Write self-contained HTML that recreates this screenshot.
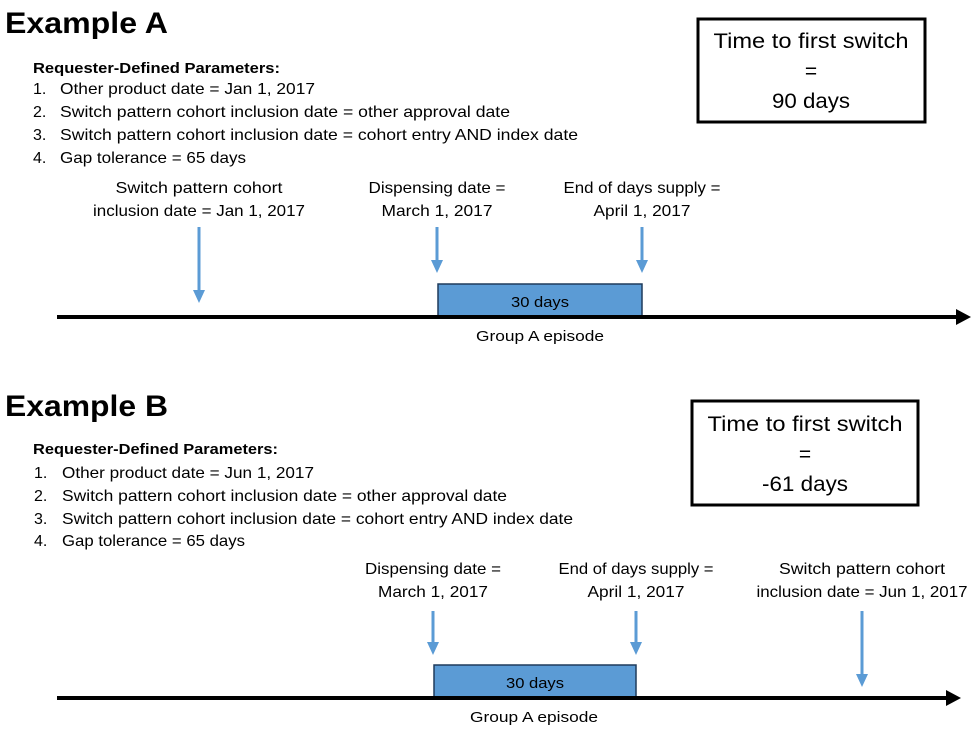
<!DOCTYPE html>
<html><head><meta charset="utf-8"><style>
html,body{margin:0;padding:0;background:#fff;}
svg{display:block;font-family:"Liberation Sans",sans-serif;}
</style></head><body>
<svg width="975" height="729" viewBox="0 0 975 729">
<g>
<text x="5" y="33" font-size="30" font-weight="bold" textLength="163" lengthAdjust="spacingAndGlyphs">Example A</text>
<text x="33" y="73" font-size="15" font-weight="bold" textLength="247" lengthAdjust="spacingAndGlyphs">Requester-Defined Parameters:</text>
<g font-size="16">
<text x="33" y="94">1.</text><text x="60" y="94" textLength="255" lengthAdjust="spacingAndGlyphs">Other product date = Jan 1, 2017</text>
<text x="33" y="117">2.</text><text x="60" y="117" textLength="450" lengthAdjust="spacingAndGlyphs">Switch pattern cohort inclusion date = other approval date</text>
<text x="33" y="140">3.</text><text x="60" y="140" textLength="518" lengthAdjust="spacingAndGlyphs">Switch pattern cohort inclusion date = cohort entry AND index date</text>
<text x="33" y="163">4.</text><text x="60" y="163" textLength="186" lengthAdjust="spacingAndGlyphs">Gap tolerance = 65 days</text>
</g>
<rect x="698" y="19" width="227" height="103" fill="#fff" stroke="#000" stroke-width="3"/>
<g font-size="21" text-anchor="middle">
<text x="811" y="48" textLength="195" lengthAdjust="spacingAndGlyphs">Time to first switch</text>
<text x="811" y="78">=</text>
<text x="811" y="108" textLength="78" lengthAdjust="spacingAndGlyphs">90 days</text>
</g>
<g font-size="16" text-anchor="middle">
<text x="199" y="193" textLength="167" lengthAdjust="spacingAndGlyphs">Switch pattern cohort</text>
<text x="199" y="216" textLength="212" lengthAdjust="spacingAndGlyphs">inclusion date = Jan 1, 2017</text>
<text x="437" y="193" textLength="137" lengthAdjust="spacingAndGlyphs">Dispensing date =</text>
<text x="437" y="216" textLength="111" lengthAdjust="spacingAndGlyphs">March 1, 2017</text>
<text x="642" y="193" textLength="157" lengthAdjust="spacingAndGlyphs">End of days supply =</text>
<text x="642" y="216" textLength="97" lengthAdjust="spacingAndGlyphs">April 1, 2017</text>
</g>
<g>
<line x1="199" y1="227" x2="199" y2="292" stroke="#5b9bd5" stroke-width="3"/>
<path d="M193,290 L205,290 L199,303 Z" fill="#5b9bd5"/>
<line x1="437" y1="227" x2="437" y2="262" stroke="#5b9bd5" stroke-width="3"/>
<path d="M431,260 L443,260 L437,273 Z" fill="#5b9bd5"/>
<line x1="642" y1="227" x2="642" y2="262" stroke="#5b9bd5" stroke-width="3"/>
<path d="M636,260 L648,260 L642,273 Z" fill="#5b9bd5"/>
</g>
<rect x="438" y="284" width="204" height="33" fill="#5b9bd5" stroke="#1f3b5c" stroke-width="1.5"/>
<text x="540" y="307" font-size="15" text-anchor="middle" textLength="58" lengthAdjust="spacingAndGlyphs">30 days</text>
<line x1="57" y1="317" x2="958" y2="317" stroke="#000" stroke-width="4"/>
<path d="M956,309 L971,317 L956,325 Z" fill="#000"/>
<text x="540" y="341" font-size="15" text-anchor="middle" textLength="128" lengthAdjust="spacingAndGlyphs">Group A episode</text>
</g>

<g>
<text x="5" y="416" font-size="30" font-weight="bold" textLength="163" lengthAdjust="spacingAndGlyphs">Example B</text>
<text x="33" y="454" font-size="15" font-weight="bold" textLength="245" lengthAdjust="spacingAndGlyphs">Requester-Defined Parameters:</text>
<g font-size="16">
<text x="34" y="478">1.</text><text x="62" y="478" textLength="252" lengthAdjust="spacingAndGlyphs">Other product date = Jun 1, 2017</text>
<text x="34" y="501">2.</text><text x="62" y="501" textLength="445" lengthAdjust="spacingAndGlyphs">Switch pattern cohort inclusion date = other approval date</text>
<text x="34" y="524">3.</text><text x="62" y="524" textLength="511" lengthAdjust="spacingAndGlyphs">Switch pattern cohort inclusion date = cohort entry AND index date</text>
<text x="34" y="546">4.</text><text x="62" y="546" textLength="183" lengthAdjust="spacingAndGlyphs">Gap tolerance = 65 days</text>
</g>
<rect x="692" y="401" width="226" height="104" fill="#fff" stroke="#000" stroke-width="3"/>
<g font-size="21" text-anchor="middle">
<text x="805" y="431" textLength="195" lengthAdjust="spacingAndGlyphs">Time to first switch</text>
<text x="805" y="461">=</text>
<text x="805" y="491" textLength="86" lengthAdjust="spacingAndGlyphs">-61 days</text>
</g>
<g font-size="16" text-anchor="middle">
<text x="433" y="574" textLength="136" lengthAdjust="spacingAndGlyphs">Dispensing date =</text>
<text x="433" y="597" textLength="110" lengthAdjust="spacingAndGlyphs">March 1, 2017</text>
<text x="636" y="574" textLength="155" lengthAdjust="spacingAndGlyphs">End of days supply =</text>
<text x="636" y="597" textLength="97" lengthAdjust="spacingAndGlyphs">April 1, 2017</text>
<text x="862" y="574" textLength="166" lengthAdjust="spacingAndGlyphs">Switch pattern cohort</text>
<text x="862" y="597" textLength="211" lengthAdjust="spacingAndGlyphs">inclusion date = Jun 1, 2017</text>
</g>
<g>
<line x1="433" y1="611" x2="433" y2="644" stroke="#5b9bd5" stroke-width="3"/>
<path d="M427,642 L439,642 L433,655 Z" fill="#5b9bd5"/>
<line x1="636" y1="611" x2="636" y2="644" stroke="#5b9bd5" stroke-width="3"/>
<path d="M630,642 L642,642 L636,655 Z" fill="#5b9bd5"/>
<line x1="862" y1="611" x2="862" y2="676" stroke="#5b9bd5" stroke-width="3"/>
<path d="M856,674 L868,674 L862,687 Z" fill="#5b9bd5"/>
</g>
<rect x="434" y="665" width="202" height="33" fill="#5b9bd5" stroke="#1f3b5c" stroke-width="1.5"/>
<text x="535" y="688" font-size="15" text-anchor="middle" textLength="58" lengthAdjust="spacingAndGlyphs">30 days</text>
<line x1="57" y1="698" x2="948" y2="698" stroke="#000" stroke-width="4"/>
<path d="M946,690 L961,698 L946,706 Z" fill="#000"/>
<text x="534" y="722" font-size="15" text-anchor="middle" textLength="128" lengthAdjust="spacingAndGlyphs">Group A episode</text>
</g>
</svg>
</body></html>
